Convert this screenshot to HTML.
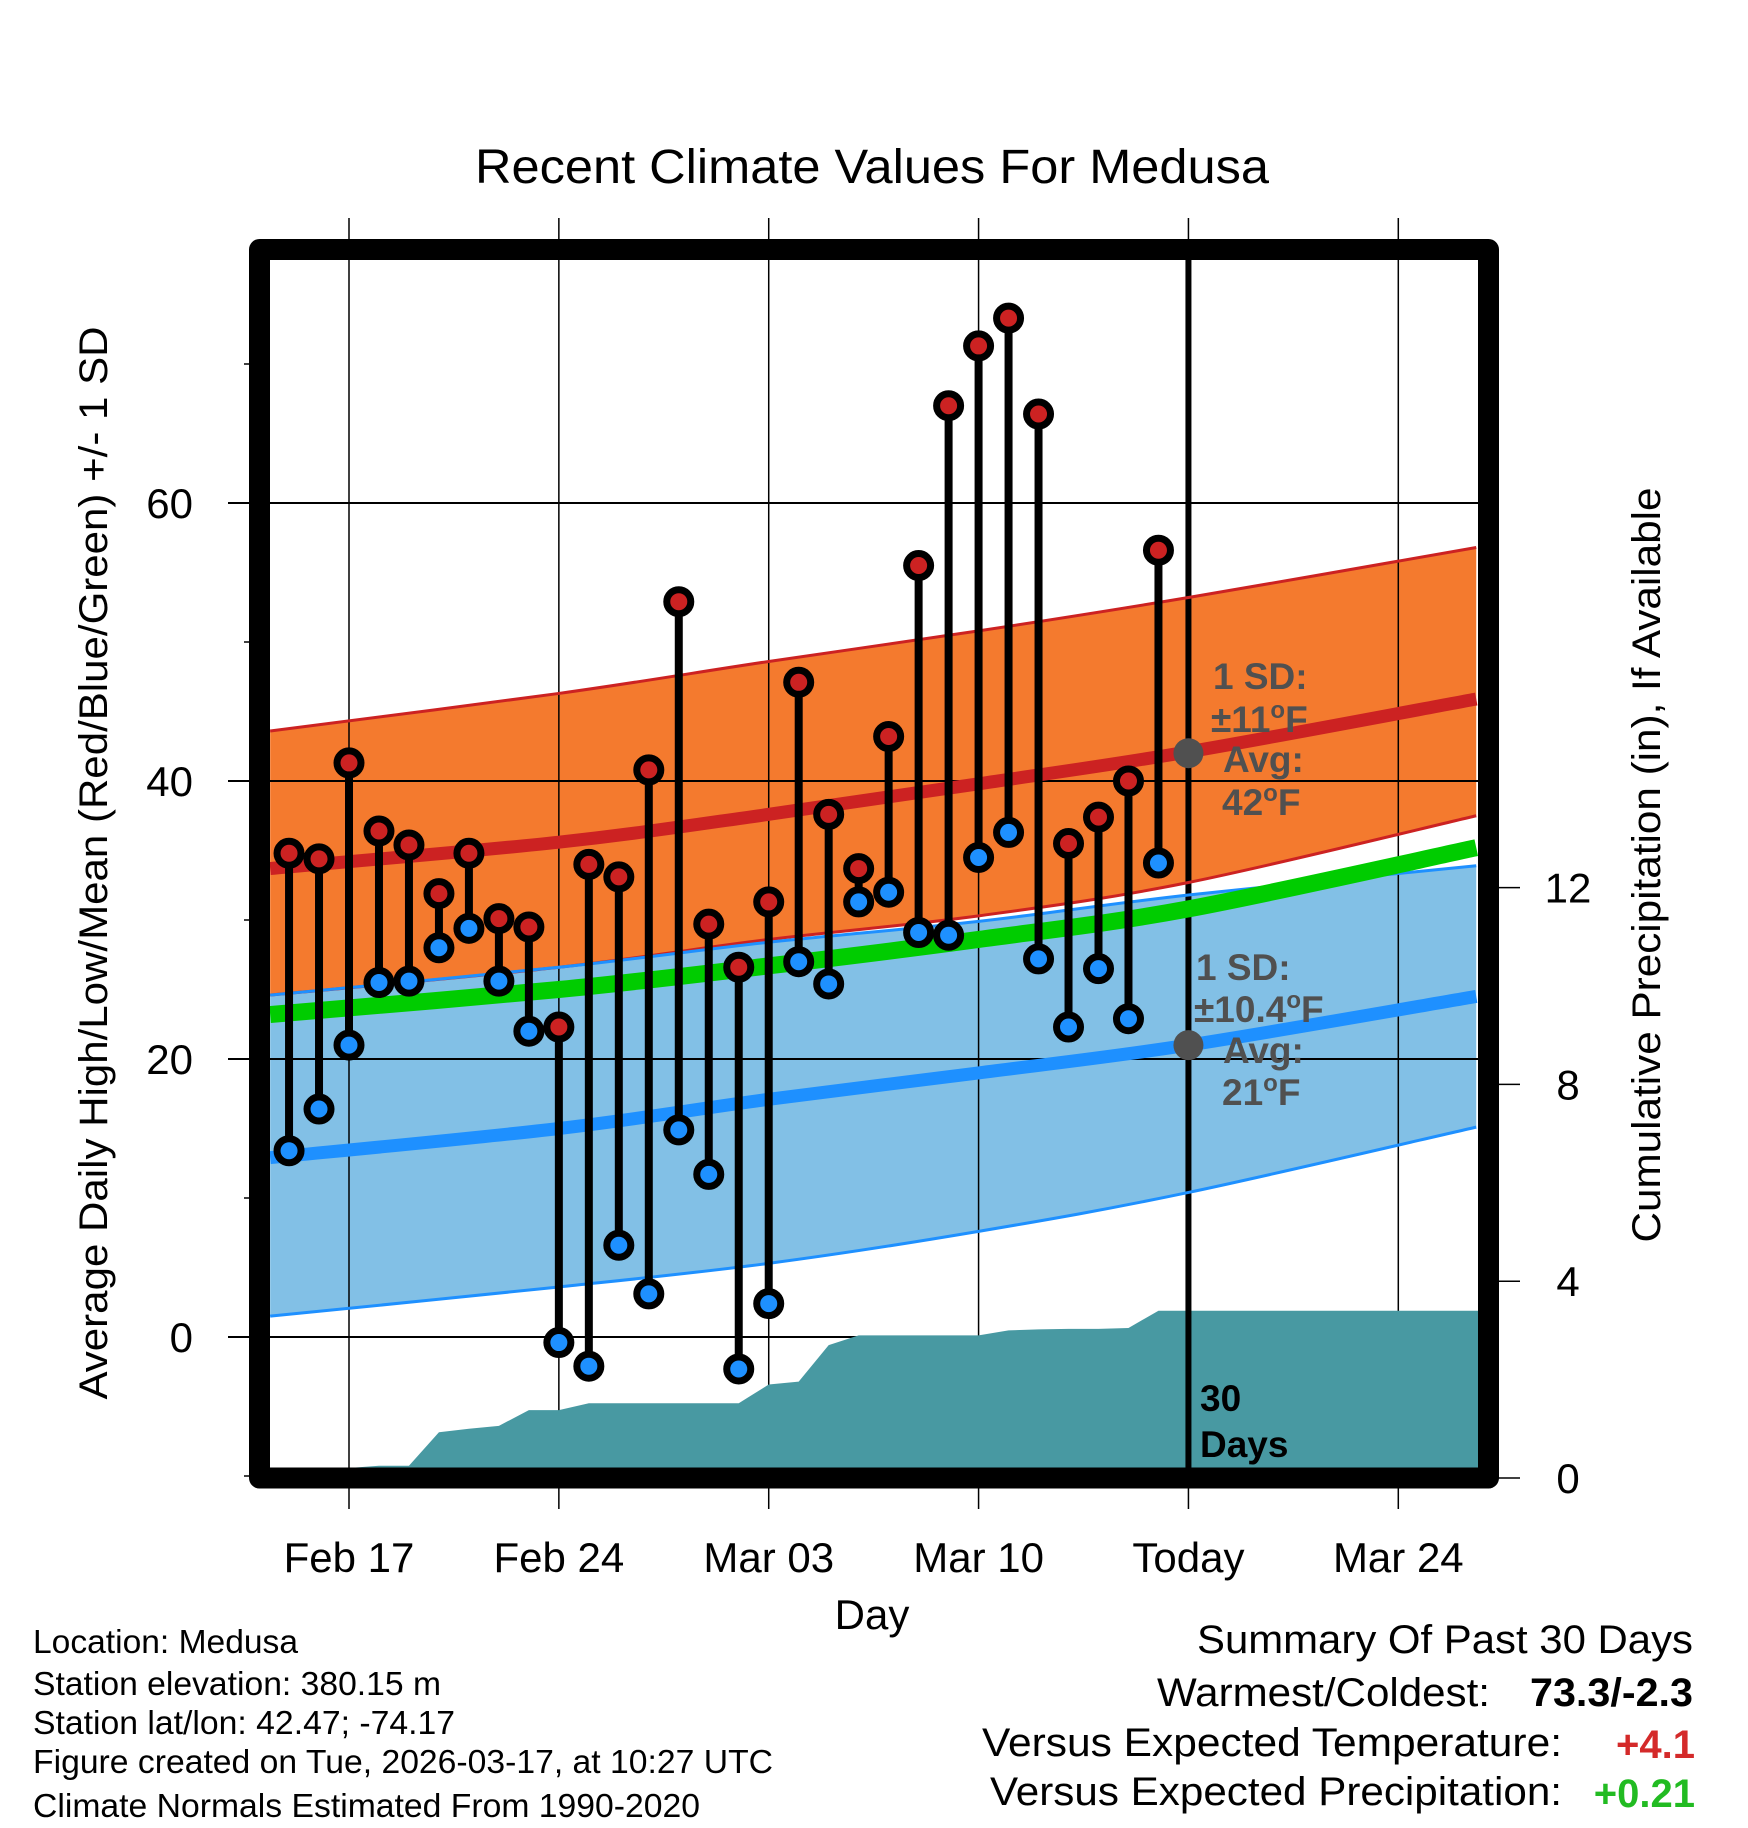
<!DOCTYPE html>
<html><head><meta charset="utf-8"><title>Recent Climate Values For Medusa</title>
<style>
html,body{margin:0;padding:0;background:#fff;}
svg{display:block;font-family:"Liberation Sans",Arial,sans-serif;}
</style></head>
<body>
<svg id="chart" width="1748" height="1828" viewBox="0 0 1748 1828" xmlns="http://www.w3.org/2000/svg">
  <rect x="0" y="0" width="1748" height="1828" fill="#fff"/>
  <text x="872" y="183" text-anchor="middle" font-size="48" textLength="794" lengthAdjust="spacingAndGlyphs">Recent Climate Values For Medusa</text>
  <g id="fills"></g>
  <g id="grid"></g>
  <g id="precip"></g>
  <g id="lines"></g>
  <g id="marks"></g>
  <g id="annot"></g>
  <g id="axes"></g>
  <text transform="translate(107,863) rotate(-90)" text-anchor="middle" font-size="40" textLength="1073" lengthAdjust="spacingAndGlyphs">Average Daily High/Low/Mean (Red/Blue/Green) +/- 1 SD</text>
  <text transform="translate(1660,865) rotate(-90)" text-anchor="middle" font-size="40" textLength="755" lengthAdjust="spacingAndGlyphs">Cumulative Precipitation (in), If Available</text>
  <text x="872" y="1629" text-anchor="middle" font-size="42">Day</text>
  <g font-size="33">
    <text x="33" y="1653" textLength="265" lengthAdjust="spacingAndGlyphs">Location: Medusa</text>
    <text x="33" y="1695" textLength="408" lengthAdjust="spacingAndGlyphs">Station elevation: 380.15 m</text>
    <text x="33" y="1734" textLength="422" lengthAdjust="spacingAndGlyphs">Station lat/lon: 42.47; -74.17</text>
    <text x="33" y="1773" textLength="740" lengthAdjust="spacingAndGlyphs">Figure created on Tue, 2026-03-17, at 10:27 UTC</text>
    <text x="33" y="1817" textLength="667" lengthAdjust="spacingAndGlyphs">Climate Normals Estimated From 1990-2020</text>
  </g>
  <g font-size="40">
    <text x="1197" y="1653" textLength="496" lengthAdjust="spacingAndGlyphs">Summary Of Past 30 Days</text>
    <text x="1157" y="1706" textLength="333" lengthAdjust="spacingAndGlyphs">Warmest/Coldest:</text>
    <text x="1530" y="1706" font-weight="bold" textLength="163" lengthAdjust="spacingAndGlyphs">73.3/-2.3</text>
    <text x="982" y="1756" textLength="580" lengthAdjust="spacingAndGlyphs">Versus Expected Temperature:</text>
    <text x="1695" y="1758" text-anchor="end" font-weight="bold" fill="#d42a2a">+4.1</text>
    <text x="990" y="1805" textLength="572" lengthAdjust="spacingAndGlyphs">Versus Expected Precipitation:</text>
    <text x="1695" y="1807" text-anchor="end" font-weight="bold" fill="#22bb22">+0.21</text>
  </g>
</svg>
<script>
// ---- data ----
const obsDays = [-2,-1,0,1,2,3,4,5,6,7,8,9,10,11,12,13,14,15,16,17,18,19,20,21,22,23,24,25,26,27];
const highs = [34.8,34.4,41.3,36.4,35.4,31.9,34.8,30.1,29.5,22.3,34.0,33.1,40.8,52.9,29.7,26.6,31.3,47.1,37.6,33.7,43.2,55.5,67.0,71.3,73.3,66.4,35.5,37.4,40.0,56.6];
const lows = [13.4,16.4,21.0,25.5,25.6,28.0,29.4,25.6,22.0,-0.4,-2.1,6.6,3.1,14.9,11.7,-2.3,2.4,27.0,25.4,31.3,32.0,29.1,28.9,34.5,36.3,27.2,22.3,26.5,22.9,34.1];
const precip = [0,0,0,0.25,0.25,0.93,1.0,1.06,1.38,1.38,1.52,1.52,1.52,1.52,1.52,1.52,1.9,1.96,2.7,2.9,2.9,2.9,2.9,2.9,3.0,3.02,3.03,3.03,3.05,3.4];
const normDays = [-2.63,7,14,21,28,37.6];
const hiMean = [33.7,35.6,37.6,39.8,42.1,45.9];
const hiUpper = [43.6,46.3,48.6,50.8,53.2,56.8];
const hiLower = [24.6,26.6,28.6,30.3,32.7,37.5];
const loMean = [12.9,15.0,17.1,19.0,21.0,24.5];
const loUpper = [24.6,26.6,28.4,29.9,31.8,33.9];
const loLower = [1.5,3.6,5.3,7.6,10.4,15.1];
const avgMean = [23.2,25.0,26.7,28.6,30.8,35.2];
const dateTicks = [0,7,14,21,28,35];
const dateLabels = ["Feb 17","Feb 24","Mar 03","Mar 10","Today","Mar 24"];
const tempTicks = [0,20,40,60];
const tempLabels = ["0","20","40","60"];
const tempMinor = [-10,10,30,50,70];
const precipTicks = [0,4,8,12];
const precipLabels = ["0","4","8","12"];
const todayDay = 28;
const todayHiAvg = 42, todayLoAvg = 21;

// ---- axes ----
const L=270,R=1478,T=260,B=1468;
const X = d => 349 + 29.98*d;
const Y = t => 1337 - 13.9*t;
const YP = p => 1478 - 49.2*p;
const NS="http://www.w3.org/2000/svg";
function mk(tag, attrs, parent){const e=document.createElementNS(NS,tag);for(const k in attrs)e.setAttribute(k,attrs[k]);parent.appendChild(e);return e;}
const g = id => document.getElementById(id);
const cx = d => Math.min(R,Math.max(L,X(d)));

// smooth path through points (Catmull-Rom -> bezier)
function smoothPts(arr){
  const p=normDays.map((d,i)=>[cx(d),Y(arr[i])]);
  let s="";
  for(let i=0;i<p.length-1;i++){
    const p0=p[Math.max(0,i-1)],p1=p[i],p2=p[i+1],p3=p[Math.min(p.length-1,i+2)];
    const c1=[p1[0]+(p2[0]-p0[0])/6,p1[1]+(p2[1]-p0[1])/6];
    const c2=[p2[0]-(p3[0]-p1[0])/6,p2[1]-(p3[1]-p1[1])/6];
    s+=" C"+c1[0]+","+c1[1]+" "+c2[0]+","+c2[1]+" "+p2[0]+","+p2[1];
  }
  return {start:p[0],seg:s,pts:p};
}
function line(arr){const s=smoothPts(arr);return "M"+s.start[0]+","+s.start[1]+s.seg;}
function band(up, lo){
  const a=smoothPts(up);
  const rev=lo.slice().reverse();
  const days=normDays.slice().reverse();
  const p=days.map((d,i)=>[cx(d),Y(rev[i])]);
  let s="";
  for(let i=0;i<p.length-1;i++){
    const p0=p[Math.max(0,i-1)],p1=p[i],p2=p[i+1],p3=p[Math.min(p.length-1,i+2)];
    const c1=[p1[0]+(p2[0]-p0[0])/6,p1[1]+(p2[1]-p0[1])/6];
    const c2=[p2[0]-(p3[0]-p1[0])/6,p2[1]-(p3[1]-p1[1])/6];
    s+=" C"+c1[0]+","+c1[1]+" "+c2[0]+","+c2[1]+" "+p2[0]+","+p2[1];
  }
  return "M"+a.start[0]+","+a.start[1]+a.seg+" L"+p[0][0]+","+p[0][1]+s+"Z";
}
const defs=mk("defs",{},g("chart"));
const cp=mk("clipPath",{id:"plotclip"},defs);
mk("rect",{x:L,y:T,width:R-L,height:B-T},cp);
g("fills").setAttribute("clip-path","url(#plotclip)");
g("lines").setAttribute("clip-path","url(#plotclip)");

let e;
e=mk("path",{d:band(hiUpper,hiLower),fill:"#f47a2e"},g("fills"));


e=mk("path",{d:band(loUpper,loLower),fill:"#82c0e6"},g("fills"));


e=mk("path",{d:line(hiUpper),fill:"none",stroke:"#cc2222","stroke-width":3},g("lines"));


e=mk("path",{d:line(hiLower),fill:"none",stroke:"#cc2222","stroke-width":3},g("lines"));


e=mk("path",{d:line(loUpper),fill:"none",stroke:"#1e90ff","stroke-width":3},g("lines"));


e=mk("path",{d:line(loLower),fill:"none",stroke:"#1e90ff","stroke-width":3},g("lines"));


e=mk("path",{d:line(avgMean),fill:"none",stroke:"#00cc00","stroke-width":17},g("lines"));


e=mk("path",{d:line(hiMean),fill:"none",stroke:"#cc2222","stroke-width":13},g("lines"));


e=mk("path",{d:line(loMean),fill:"none",stroke:"#1e90ff","stroke-width":13},g("lines"));



dateTicks.forEach((d,i)=>{
  const gl=mk("line",{x1:X(d),x2:X(d),y1:218,y2:1509,stroke:"#000","stroke-width":1.5},g("grid"));
  
  
  const t=mk("text",{x:X(d),y:1572,"text-anchor":"middle","font-size":42},g("axes"));
  t.textContent=dateLabels[i];
  
  
});
tempTicks.forEach((v,i)=>{
  const gl=mk("line",{x1:228,x2:R,y1:Y(v),y2:Y(v),stroke:"#000","stroke-width":2},g("grid"));
  
  
  const t=mk("text",{x:193,y:Y(v)+15,"text-anchor":"end","font-size":42},g("axes"));
  t.textContent=tempLabels[i];
  
  
});
tempMinor.forEach(v=>{
  const tk=mk("line",{x1:244,x2:260,y1:Y(v),y2:Y(v),stroke:"#000","stroke-width":1.5},g("axes"));
  
  
});
precipTicks.forEach((p,i)=>{
  const tk=mk("line",{x1:1488,x2:1520,y1:YP(p),y2:YP(p),stroke:"#000","stroke-width":1.5},g("axes"));
  
  
  const t=mk("text",{x:1568,y:YP(p)+15,"text-anchor":"middle","font-size":42},g("axes"));
  t.textContent=precipLabels[i];
  
  
});

let pd="M"+X(obsDays[0])+","+B;
obsDays.forEach((d,i)=>{pd+=" L"+X(d)+","+Math.min(B,YP(precip[i]));});
pd+=" L"+R+","+Math.min(B,YP(precip[precip.length-1]))+" L"+R+","+B+"Z";
e=mk("path",{d:pd,fill:"#4899a2"},g("precip"));



e=mk("line",{x1:X(todayDay),x2:X(todayDay),y1:T,y2:B,stroke:"#000","stroke-width":6},g("precip"));



obsDays.forEach((d,i)=>{
  const x=X(d);
  const s=mk("line",{x1:x,x2:x,y1:Y(highs[i]),y2:Y(lows[i]),stroke:"#000","stroke-width":8},g("marks"));
  
  
});
obsDays.forEach((d,i)=>{
  const x=X(d);
  const h1=mk("circle",{cx:x,cy:Y(highs[i]),r:12,fill:"#cc2222",stroke:"#000","stroke-width":7},g("marks"));
  
  
  const l1=mk("circle",{cx:x,cy:Y(lows[i]),r:12,fill:"#1e90ff",stroke:"#000","stroke-width":7},g("marks"));
  
  
});

e=mk("circle",{cx:X(todayDay),cy:Y(todayHiAvg),r:15,fill:"#505050"},g("annot"));


e=mk("circle",{cx:X(todayDay),cy:Y(todayLoAvg),r:15,fill:"#505050"},g("annot"));


const ann=[
 [1213,689,"1 SD:",""],[1211,732,"\u00b111","F"],[1223,772,"Avg:",""],[1222,815,"42","F"],
 [1196,980,"1 SD:",""],[1194,1022,"\u00b110.4","F"],[1223,1063,"Avg:",""],[1222,1105,"21","F"]
];
ann.forEach(a=>{
  const t=mk("text",{x:a[0],y:a[1],"font-size":37,"font-weight":"bold",fill:"#505050"},g("annot"));
  
  
  const s1=mk("tspan",{},t); s1.textContent=a[2];
  if(a[3]){
    const s2=mk("tspan",{dy:-14,"font-size":24},t); s2.textContent="o";
    const s3=mk("tspan",{dy:14},t); s3.textContent=a[3];
  }
});
e=mk("text",{x:1200,y:1411,"font-size":37,"font-weight":"bold",fill:"#000"},g("annot"));
e.textContent="30";


e=mk("text",{x:1200,y:1457,"font-size":37,"font-weight":"bold",fill:"#000"},g("annot"));
e.textContent="Days";



e=mk("rect",{x:259.5,y:249.5,width:1229,height:1228.5,fill:"none",stroke:"#000","stroke-width":21,"stroke-linejoin":"round"},g("axes"));


</script>
</body></html>
